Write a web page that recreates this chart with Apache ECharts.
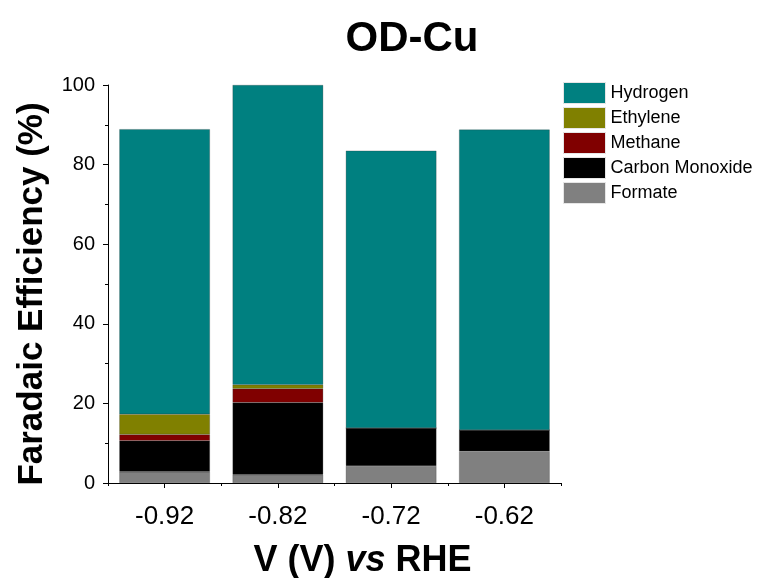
<!DOCTYPE html>
<html>
<head>
<meta charset="utf-8">
<script src="https://cdn.jsdelivr.net/npm/echarts@6/dist/echarts.min.js"></script>
<style>
  html, body { margin: 0; padding: 0; background: #fff; }
  #chart { width: 763px; height: 578px; }
</style>
</head>
<body>
<div id="chart"></div>
<script>
// Potentials (V vs RHE)
const potentials = ['-0.92', '-0.82', '-0.72', '-0.62'];

// Faradaic efficiency of each product (%), stacked bottom to top
const formate = [2.8, 2.1, 4.3, 8.0];
const carbonMonoxide = [7.8, 18.1, 9.5, 5.3];
const methane = [1.6, 3.5, 0, 0];
const ethylene = [5.1, 1.0, 0, 0];
const hydrogen = [71.6, 75.3, 69.7, 75.5];

const yTicks = [0, 20, 40, 60, 80, 100];

const font = 'Liberation Sans, Arial, sans-serif';

function stackSeries(name, data, color) {
  return {
    name: name,
    type: 'bar',
    stack: 'fe',
    data: data,
    barWidth: '80%',
    itemStyle: { color: color, borderColor: 'rgba(40,40,40,0.5)', borderWidth: 0.5 }
  };
}

const chart = echarts.init(document.getElementById('chart'), null, { renderer: 'canvas' });
chart.setOption({
  animation: false,
  title: {
    text: 'OD-Cu',
    left: 407,
    top: 13,
    textAlign: 'center',
    textStyle: { fontFamily: font, fontSize: 42, fontWeight: 'bold', color: '#000' }
  },
  legend: {
    data: ['Hydrogen', 'Ethylene', 'Methane', 'Carbon Monoxide', 'Formate'],
    orient: 'vertical',
    left: 563,
    top: 82,
    padding: 0,
    itemWidth: 42,
    itemHeight: 21,
    itemGap: 3,
    icon: 'rect',
    itemStyle: { borderColor: '#e6e6e6', borderWidth: 1 },
    textStyle: { fontFamily: font, fontSize: 18, lineHeight: 21, color: '#000' }
  },
  grid: { left: 108, right: 202, top: 85, bottom: 95, containLabel: false, outerBoundsMode: 'none' },
  xAxis: [{
    type: 'category',
    data: potentials,
    axisLine: { lineStyle: { color: '#000', width: 1 } },
    axisTick: { show: true, length: 3, lineStyle: { color: '#000' } },
    axisLabel: { fontFamily: font, fontSize: 26, color: '#000', margin: 21 },
    name: '{b|V (V) }{i|vs}{b| RHE}',
    nameLocation: 'middle',
    nameGap: 60,
    nameTextStyle: {
      padding: [0, 0, 0, 56],
      rich: {
        b: { fontFamily: font, fontSize: 36, fontWeight: 'bold', color: '#000' },
        i: { fontFamily: font, fontSize: 36, fontWeight: 'bold', fontStyle: 'italic', color: '#000' }
      }
    }
  }, {
    type: 'category',
    data: potentials,
    position: 'bottom',
    axisLine: { show: false },
    axisTick: { show: true, alignWithLabel: true, length: 5, lineStyle: { color: '#000' } },
    axisLabel: { show: false }
  }],
  yAxis: {
    type: 'value',
    min: 0,
    max: 100,
    interval: 20,
    axisLine: { show: true, lineStyle: { color: '#000', width: 1 } },
    axisTick: { show: true, length: 5, lineStyle: { color: '#000' } },
    minorTick: { show: true, splitNumber: 2, length: 3, lineStyle: { color: '#000' } },
    splitLine: { show: false },
    axisLabel: {
      fontFamily: font, fontSize: 20, color: '#000', margin: 13,
      formatter: v => (yTicks.includes(v) ? String(v) : '')
    },
    name: 'Faradaic Efficiency (%)',
    nameLocation: 'middle',
    nameGap: 58,
    nameTextStyle: {
      fontFamily: font, fontSize: 35, fontWeight: 'bold', color: '#000',
      padding: [0, 20, 0, 0]
    }
  },
  series: [
    stackSeries('Formate', formate, '#808080'),
    stackSeries('Carbon Monoxide', carbonMonoxide, '#000000'),
    stackSeries('Methane', methane, '#800000'),
    stackSeries('Ethylene', ethylene, '#808000'),
    stackSeries('Hydrogen', hydrogen, '#008080')
  ]
});
</script>
</body>
</html>
